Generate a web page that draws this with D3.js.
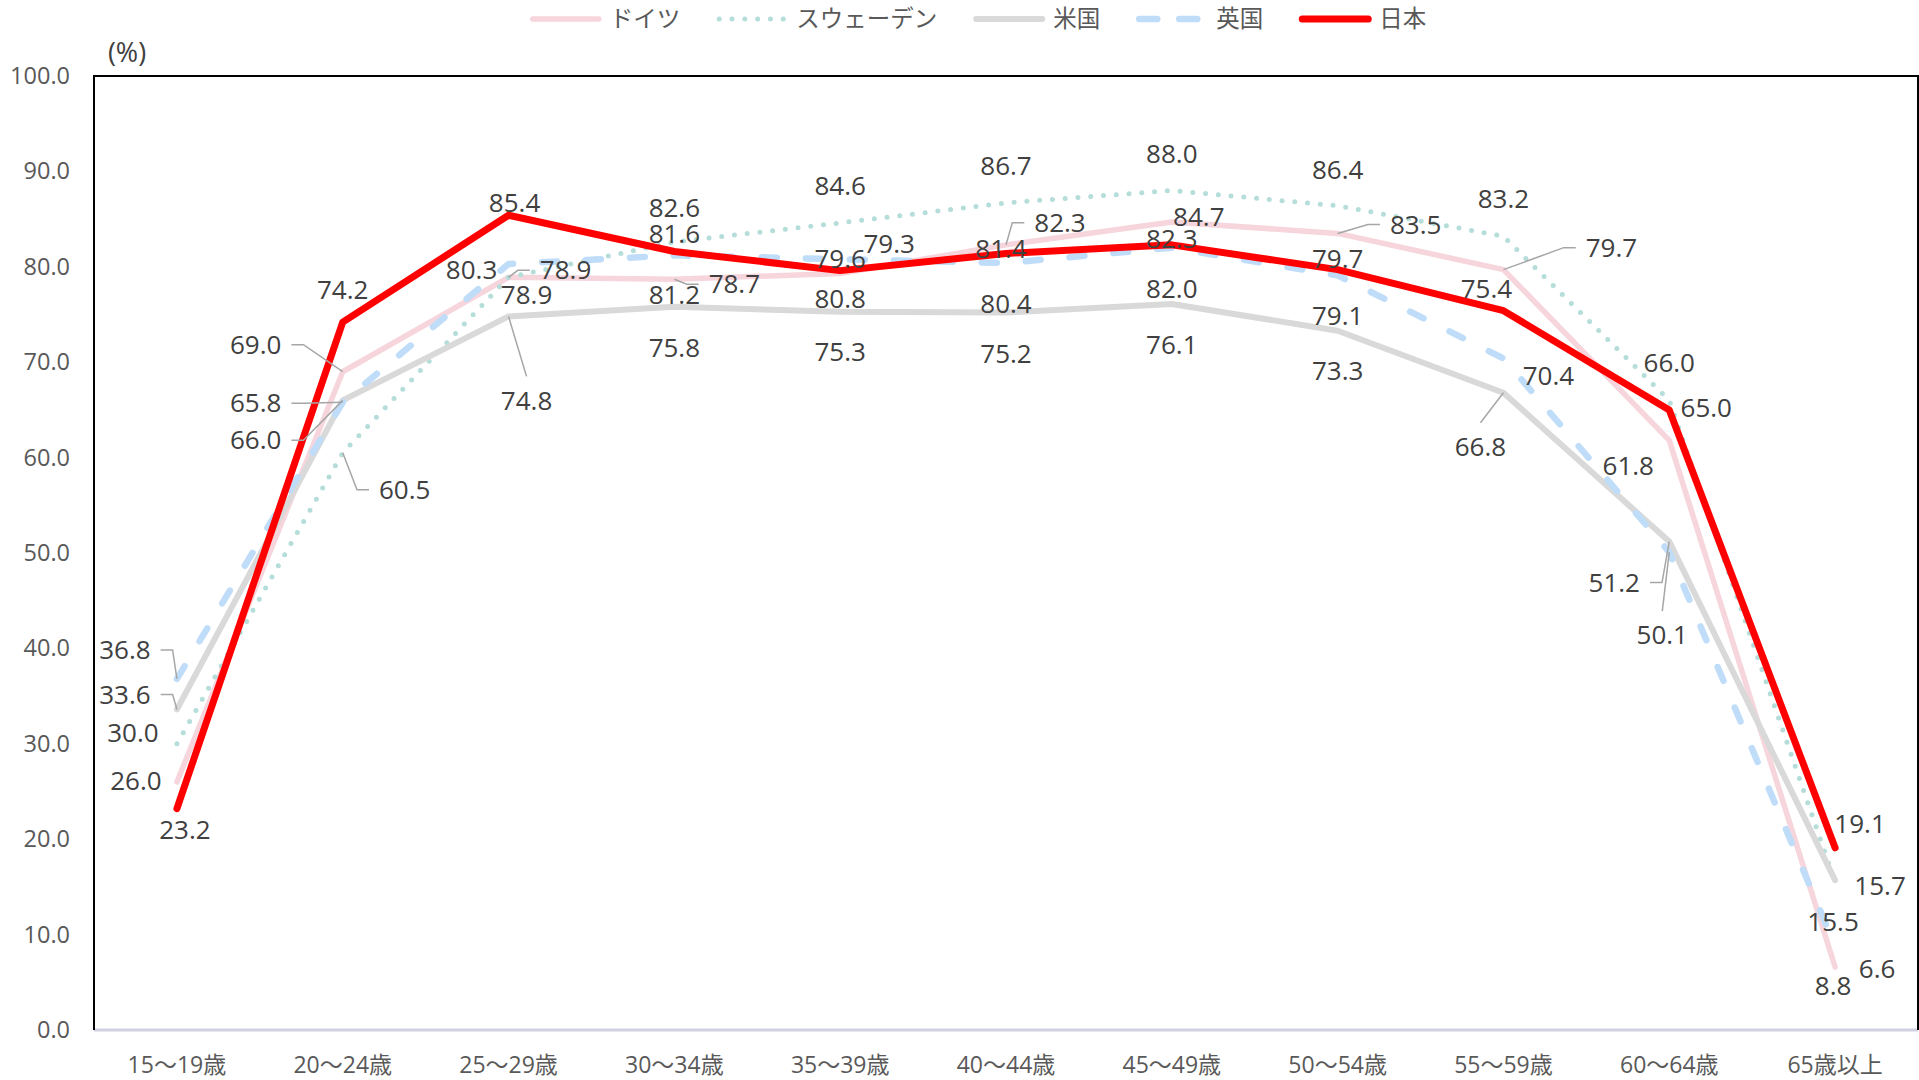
<!DOCTYPE html>
<html><head><meta charset="utf-8">
<script src="https://cdn.jsdelivr.net/npm/d3@7"></script>
<style>body{margin:0;background:#fff}svg{display:block}</style>
</head><body>
<svg id="chart" width="1919" height="1080"></svg>
<script>
// ---- data ----
const categories = ["15〜19歳","20〜24歳","25〜29歳","30〜34歳","35〜39歳","40〜44歳","45〜49歳","50〜54歳","55〜59歳","60〜64歳","65歳以上"];
const seriesNames = ["ドイツ","スウェーデン","米国","英国","日本"];
const germany = [26.0, 69.0, 78.9, 78.7, 79.3, 82.3, 84.7, 83.5, 79.7, 61.8, 6.6];
const sweden  = [30.0, 60.5, 78.9, 82.6, 84.6, 86.7, 88.0, 86.4, 83.2, 66.0, 15.5];
const usa     = [33.6, 66.0, 74.8, 75.8, 75.3, 75.2, 76.1, 73.3, 66.8, 51.2, 15.7];
const uk      = [36.8, 65.8, 80.3, 81.2, 80.8, 80.4, 82.0, 79.1, 70.4, 50.1, 8.8];
const japan   = [23.2, 74.2, 85.4, 81.6, 79.6, 81.4, 82.3, 79.7, 75.4, 65.0, 19.1];
const yTicks = [0,10,20,30,40,50,60,70,80,90,100];
const yUnit = "(%)";

// ---- label layout (offset from point, leader flag) ----
const labelOffsets = [
  [[-41,-1,0],[-87,-27,1],[57,-7,1],[60,5,1],[49,-30,0],[54,-22,1],[27,-5,0],[78,-9,1],[108,-22,1],[-41,25,0],[42,2,0]],
  [[-44,-11,0],[62,37,1],[18,18,0],[0,-34,0],[0,-37,0],[0,-37,0],[0,-37,0],[0,-36,0],[0,-37,0],[0,-37,0],[-2,40,0]],
  [[-52,-15,1],[-87,40,1],[18,84,1],[0,41,0],[0,40,0],[0,41,0],[0,41,0],[0,40,0],[-23,54,1],[-55,41,1],[45,6,0]],
  [[-52,-29,1],[-87,1,1],[-37,6,0],[0,40,0],[0,40,0],[0,41,0],[0,41,0],[0,41,0],[45,18,0],[-7,83,1],[-2,40,0]],
  [[8,21,0],[0,-32,0],[6,-12,0],[0,-18,0],[0,-12,0],[-5,-5,0],[0,-6,0],[0,-11,0],[-17,-22,0],[37,-2,0],[25,-24,0]]
];

// ---- styles ----
const styles = [
  {color:"#F6D5DC", width:5.5, dash:null},
  {color:"#B5DDD9", width:5, dash:"0 12.8"},
  {color:"#D9D9D9", width:6, dash:null},
  {color:"#BFDDF9", width:6.5, dash:"15 29"},
  {color:"#FF0000", width:7, dash:null}
];
const seriesValues = [germany, sweden, usa, uk, japan];

const font = "'Open Sans','Noto Sans CJK JP',sans-serif";
const svg = d3.select("#chart");
const L = 94, R = 1918, T = 76, B = 1030;

const x = d3.scaleBand().domain(categories).range([L, R]).padding(0);
const cx = c => x(c) + x.bandwidth()/2;
const y = d3.scaleLinear().domain([0,100]).range([B, T]);

// y axis
const yAxis = svg.append("g").attr("transform", `translate(${L},0)`)
  .call(d3.axisLeft(y).tickValues(yTicks).tickSize(0).tickPadding(24).tickFormat(d3.format(".1f")));
yAxis.select(".domain").remove();
yAxis.selectAll("text").attr("font-family", font).attr("font-size", 23.5).attr("fill", "#595959");

// x axis
const xAxis = svg.append("g").attr("transform", `translate(0,${B})`)
  .call(d3.axisBottom(x).tickSize(0));
xAxis.select(".domain").remove();
xAxis.selectAll("text").attr("y", 35).attr("dy", "0.35em")
  .attr("font-family", font).attr("font-size", 23).attr("fill", "#595959");

// plot border
svg.append("line").attr("x1", L).attr("x2", R).attr("y1", B).attr("y2", B)
  .attr("stroke", "#D0D0E0").attr("stroke-width", 3);
svg.append("path").attr("d", `M${L},${B}V${T}H${R}V${B}`)
  .attr("fill", "none").attr("stroke", "#000").attr("stroke-width", 2);

// unit label
svg.append("text").attr("x", 127).attr("y", 53).attr("dy", "0.35em").attr("text-anchor", "middle")
  .attr("font-family", font).attr("font-size", 27).attr("fill", "#404040").text(yUnit);

// lines
const line = d3.line().x((d,i) => cx(categories[i])).y(d => y(d));
seriesValues.forEach((vals, s) => {
  const st = styles[s];
  const p = svg.append("path").datum(vals).attr("d", line)
    .attr("fill", "none").attr("stroke", st.color).attr("stroke-width", st.width)
    .attr("stroke-linejoin", "round").attr("stroke-linecap", "round");
  if (st.dash) p.attr("stroke-dasharray", st.dash);
});

// data labels
const leaderG = svg.append("g");
const labelG = svg.append("g");
seriesValues.forEach((vals, s) => {
  vals.forEach((v, i) => {
    const [dx, dy, leader] = labelOffsets[s][i];
    const px = cx(categories[i]), py = y(v);
    const lx = px + dx, ly = py + dy;
    const t = labelG.append("text").attr("x", lx).attr("y", ly).attr("dy", "0.35em")
      .attr("text-anchor", "middle").attr("font-family", font).attr("font-size", 26)
      .attr("fill", "#404040").text(d3.format(".1f")(v));
    if (leader) {
      const w = t.node().getComputedTextLength();
      let pts;
      if (Math.abs(dx) >= 30) {
        const sgn = dx > 0 ? -1 : 1;
        const sx = lx + sgn*(w/2 + 10);
        pts = [[sx, ly], [sx + sgn*12, ly], [px, py]];
      } else {
        const sgn = dy > 0 ? -1 : 1;
        pts = [[lx, ly + sgn*24], [px, py]];
      }
      leaderG.append("path").attr("d", d3.line()(pts)).attr("fill", "none")
        .attr("stroke", "#A6A6A6").attr("stroke-width", 1.5);
    }
  });
});

// legend
const legend = svg.append("g");
const symLen = 72, symGap = 8, entryGap = 36, legY = 19;
let cur = 0;
seriesNames.forEach((name, s) => {
  const g = legend.append("g");
  const st = styles[s];
  const sp = g.append("line").attr("x1", cur + 3).attr("x2", cur + symLen - 3).attr("y1", legY).attr("y2", legY)
    .attr("stroke", st.color).attr("stroke-width", st.width).attr("stroke-linecap", "round");
  if (st.dash) sp.attr("stroke-dasharray", s === 3 ? "18 22" : st.dash);
  const t = g.append("text").attr("x", cur + symLen + symGap).attr("y", legY).attr("dy", "0.35em")
    .attr("font-family", font).attr("font-size", 23.5).attr("fill", "#595959").text(name);
  const w = t.node().getComputedTextLength();
  cur += symLen + symGap + w + entryGap;
});
const total = cur - entryGap;
legend.attr("transform", `translate(${978 - total/2},0)`);
</script>
</body></html>
